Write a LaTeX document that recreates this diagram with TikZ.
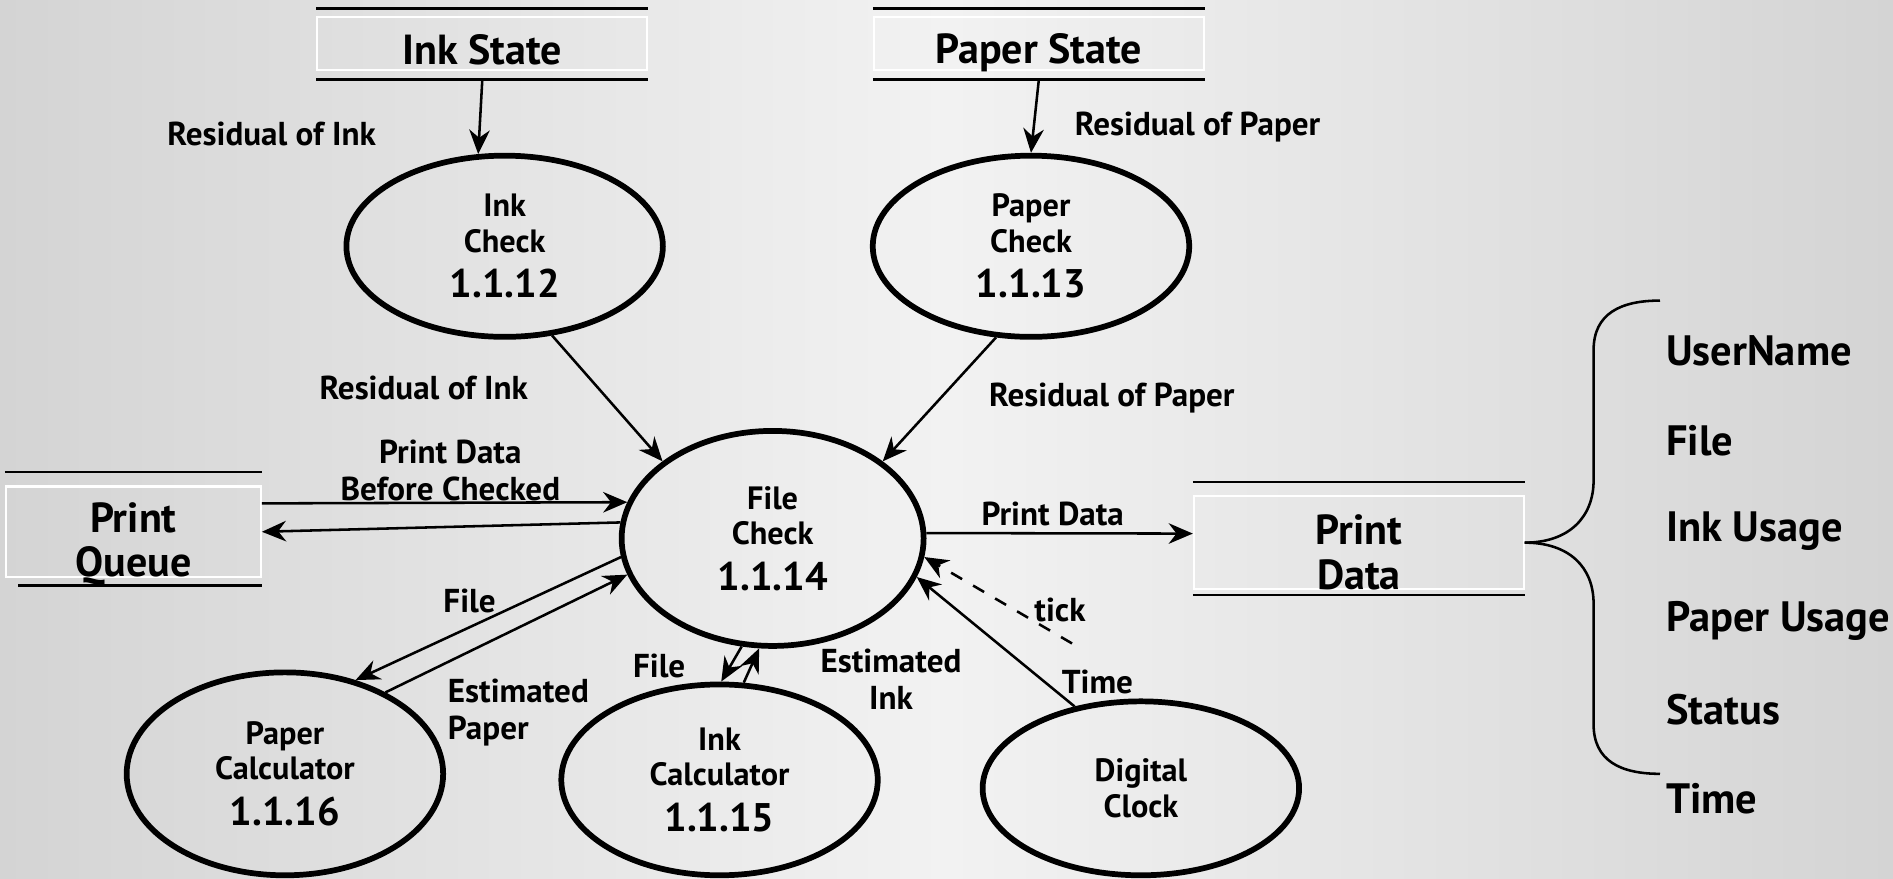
\documentclass[tikz,border=0pt]{standalone}
\usepackage{fontspec}
\setmainfont{PT Sans}
\usepackage{tikz}
\usepackage{xcolor}
\usetikzlibrary{shapes.geometric,arrows.meta}
\definecolor{bgside}{RGB}{212,212,212}
\definecolor{bgmid}{RGB}{242,242,242}
\tikzstyle{process} = [ellipse, draw, line width=1.35pt, minimum width=2.62cm, minimum height=1.5cm, inner sep=0pt, align=center, font=\fontsize{7.6}{8.3}\selectfont\bfseries]
\tikzstyle{store} = [rectangle, draw=white, line width=0.5pt, minimum width=2.73cm, inner sep=0pt]
\tikzstyle{storetext} = [inner sep=0pt, align=center, font=\fontsize{9.9}{10.4}\selectfont\bfseries]
\tikzstyle{flow} = [inner sep=0pt, align=center, font=\fontsize{7.8}{8.1}\selectfont\bfseries]
\tikzstyle{item} = [anchor=west, inner sep=0pt, font=\fontsize{10}{12}\selectfont\bfseries]
\tikzstyle{rule} = [-, line width=0.6pt]
\newcommand{\pnum}[1]{\fontsize{9.4}{10}\selectfont #1}

\begin{document}
\begin{tikzpicture}[x=0.01cm,y=0.01cm,->,>={Stealth[length=2mm,width=1.7mm]},semithick]
  \shade[left color=bgside, right color=bgside, middle color=bgmid] (0,0) rectangle (1568,728);
  \useasboundingbox (0,0) rectangle (1568,728);

  % data stores
  \node[store, minimum height=0.44cm, label={[storetext, yshift=-0.05cm]center:Ink State}] (inkstate) at (399.5,692) {};
  \node[store, minimum height=0.44cm, label={[storetext, yshift=-0.08cm]center:Paper State}] (paperstate) at (860.5,692) {};
  \node[store, minimum width=2.11cm, minimum height=0.75cm, label={[storetext, yshift=-0.1cm]center:Print\\Queue}] (queue) at (110.5,287.5) {};
  \node[store, minimum height=0.77cm, label={[storetext, yshift=-0.08cm]center:Print\\Data}] (printdata) at (1125.5,278.5) {};

  \draw[rule] ([yshift=0.06cm]inkstate.north west) -- ([yshift=0.06cm]inkstate.north east);
  \draw[rule] ([yshift=-0.07cm]inkstate.south west) -- ([yshift=-0.07cm]inkstate.south east);
  \draw[rule] ([yshift=0.06cm]paperstate.north west) -- ([yshift=0.06cm]paperstate.north east);
  \draw[rule] ([yshift=-0.07cm]paperstate.south west) -- ([yshift=-0.07cm]paperstate.south east);
  \draw[rule] ([yshift=0.11cm]queue.north west) -- ([yshift=0.11cm]queue.north east);
  \draw[rule] ([xshift=0.11cm,yshift=-0.06cm]queue.south west) -- ([yshift=-0.06cm]queue.south east);
  \draw[rule] ([yshift=0.11cm]printdata.north west) -- ([yshift=0.11cm]printdata.north east);
  \draw[rule] ([yshift=-0.04cm]printdata.south west) -- ([yshift=-0.04cm]printdata.south east);

  % processes
  \node[process] (inkcheck) at (418,524) {Ink\\Check\\[2.5pt]\pnum{1.1.12}};
  \node[process] (papercheck) at (854,524) {Paper\\Check\\[2.5pt]\pnum{1.1.13}};
  \node[process, minimum width=2.5cm, minimum height=1.78cm] (filecheck) at (640,282) {File\\Check\\[2.5pt]\pnum{1.1.14}};
  \node[process, minimum height=1.68cm] (papercalc) at (236,87) {Paper\\Calculator\\[2.5pt]\pnum{1.1.16}};
  \node[process, minimum height=1.58cm] (inkcalc) at (596,82) {Ink\\Calculator\\[2.5pt]\pnum{1.1.15}};
  \node[process, minimum height=1.44cm] (clock) at (945,75) {Digital\\Clock};
  \coordinate (tickend) at (888,195);

  % flows
  \path ([yshift=-0.07cm]inkstate.south) edge (inkcheck.106);
  \path ([yshift=-0.07cm]paperstate.south) edge (papercheck.north);
  \path (inkcheck.-62) edge (filecheck.145);
  \path (papercheck.-111) edge (filecheck.35);
  \path ([yshift=0.235cm]queue.east) edge (filecheck.166);
  \path (filecheck.174) edge (queue.east);
  \path (filecheck.2) edge ([yshift=0.075cm]printdata.west);
  \path (filecheck.-173) edge (papercalc.53);
  \path (papercalc.39) edge (filecheck.-166);
  \path (filecheck.-106) edge (inkcalc.89);
  \path (inkcalc.76) edge (filecheck.-97);
  \path (clock.129) edge (filecheck.-15);
  \path (tickend) edge[dashed] (filecheck.-7);

  % flow labels
  \node[flow] (resink) at (225,617) {Residual of Ink};
  \node[flow] (respaper) at (992,623) {Residual of Paper};
  \node[flow] (resinkin) at (351,407) {Residual of Ink};
  \node[flow] (respaperin) at (921,398) {Residual of Paper};
  \node[flow] (before) at (373,338) {Print Data\\[0.6pt]Before Checked};
  \node[flow] (outdata) at (872,302) {Print Data};
  \node[flow] (filepaper) at (389,230) {File};
  \node[flow, align=left, anchor=west] (estpaper) at (370,138) {Estimated\\[0.6pt]Paper};
  \node[flow] (fileink) at (546,176) {File};
  \node[flow] (estink) at (738,165) {Estimated\\[0.6pt]Ink};
  \node[flow] (tick) at (878,223) {tick};
  \node[flow] (time) at (909,163) {Time};

  % print data fields
  \draw[-] (printdata.east) .. controls (1300,278.5) and (1320,300) .. (1320,330) -- (1320,438) .. controls (1320,468) and (1342,479) .. (1375,479);
  \draw[-] (printdata.east) .. controls (1300,278.5) and (1320,258) .. (1320,228) -- (1320,128) .. controls (1320,98) and (1342,87) .. (1375,87);
  \node[item] (username) at (1379,437) {UserName};
  \node[item] (file) at (1379,363) {File};
  \node[item] (inkusage) at (1379,288) {Ink Usage};
  \node[item] (paperusage) at (1379,214) {Paper Usage};
  \node[item] (status) at (1379,140) {Status};
  \node[item] (timefield) at (1379,66) {Time};
\end{tikzpicture}
\end{document}
